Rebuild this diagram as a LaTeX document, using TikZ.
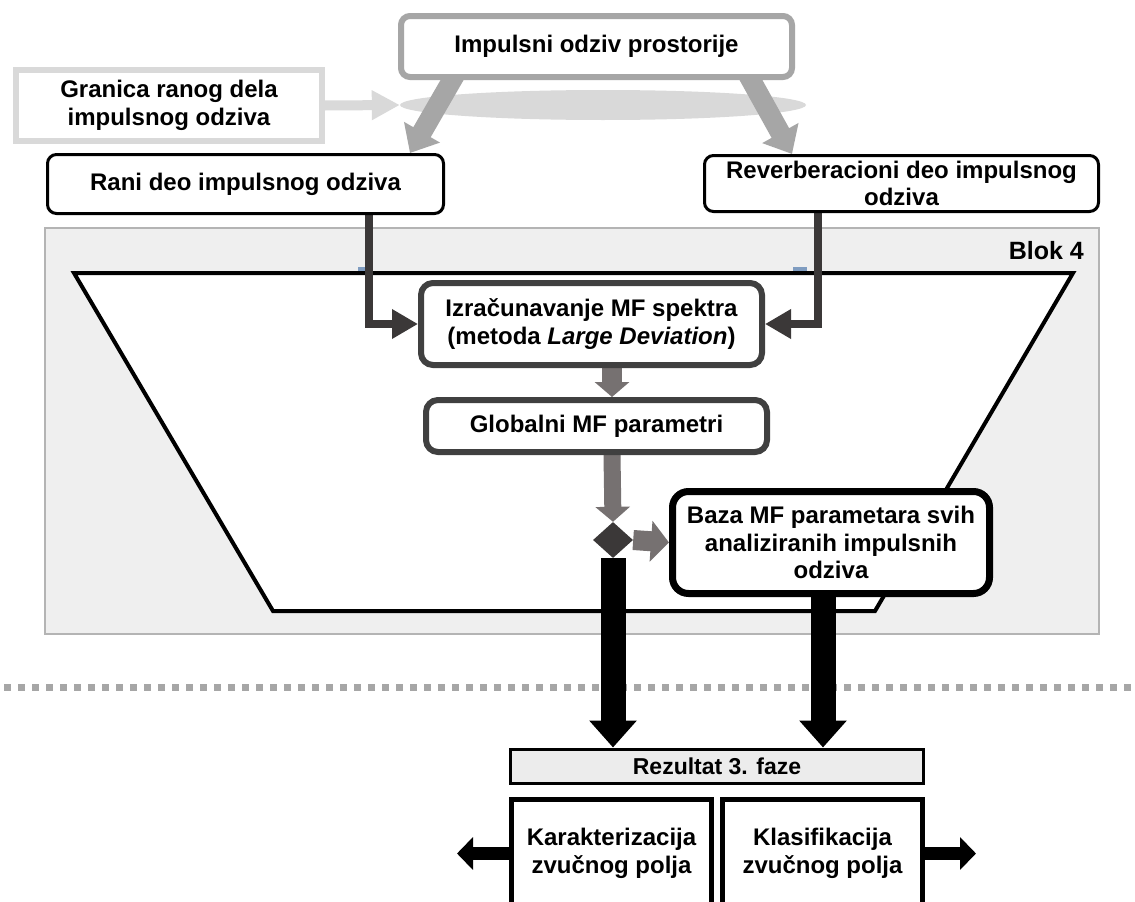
\documentclass[tikz,border=0pt]{standalone}
\usepackage{fontspec}
\setmainfont{Liberation Sans}
\usetikzlibrary{arrows.meta,shapes.geometric}
\pgfdeclarelayer{bg}
\pgfsetlayers{bg,main}
\definecolor{lgray}{HTML}{D9D9D9}
\definecolor{mgray}{HTML}{A6A6A6}
\definecolor{dgray}{HTML}{3B3838}
\definecolor{bgray}{HTML}{404040}
\definecolor{agray}{HTML}{767171}
\definecolor{panelfill}{HTML}{EFEFEF}
\definecolor{pborder}{HTML}{B4B4B4}
\definecolor{rezfill}{HTML}{ECECEC}
\definecolor{tickblue}{HTML}{7F9CC0}
\begin{document}
\begin{tikzpicture}[x=1pt,y=-1pt,
  txt/.style={font=\bfseries\fontsize{24}{27.5}\selectfont, align=center, inner sep=0pt},
  impbox/.style={txt, rectangle, draw=mgray, line width=6pt, fill=white, rounded corners=9pt},
  granbox/.style={txt, rectangle, draw=lgray, line width=6pt, fill=white},
  blackbox/.style={txt, rectangle, draw=black, line width=3pt, fill=white, rounded corners=9pt},
  darkbox/.style={txt, rectangle, draw=bgray, line width=6pt, fill=white, rounded corners=12pt},
  bazabox/.style={txt, rectangle, draw=black, line width=7pt, fill=white, rounded corners=16pt},
  rezbox/.style={txt, rectangle, draw=black, line width=3pt, fill=rezfill, font=\bfseries\fontsize{23}{27}\selectfont},
  lowbox/.style={txt, rectangle, draw=black, line width=5pt, fill=white},
  lgarrow/.style={draw=lgray, line width=10pt, -{Triangle[width=28pt,length=28pt]}},
  bigarrow/.style={draw=mgray, line width=20pt, -{Triangle[width=40pt,length=24pt]}},
  elbowarrow/.style={draw=dgray, line width=8pt, line join=miter, -{Triangle[width=28pt,length=26pt]}},
  smallarrow/.style={draw=agray, line width=20pt, -{Triangle[width=34pt,length=15pt]}},
  thinarrow/.style={draw=agray, line width=17pt, -{Triangle[width=34pt,length=15pt]}},
  blackarrow/.style={draw=black, line width=25pt, -{Triangle[width=46pt,length=27pt]}},
  sidearrow/.style={draw=black, line width=13pt, -{Triangle[width=32pt,length=16pt]}}
]
\useasboundingbox (0,0) rectangle (1135,902);

% nodes
\node[impbox, minimum width=391pt, minimum height=61pt] (imp) at (596.5,46.5) {Impulsni odziv prostorije};
\node[granbox, minimum width=306pt, minimum height=71pt] (gran) at (169,105.5) {Granica ranog dela\\impulsnog odziva};
\node[blackbox, minimum width=396pt, minimum height=59pt] (rani) at (245.5,184) {Rani deo impulsnog odziva};
\node[blackbox, minimum width=394pt, minimum height=56pt] (rev) at (901.5,183.5) {Reverberacioni deo impulsnog\\odziva};
\node[txt, anchor=east, font=\bfseries\fontsize{25}{30}\selectfont] (blok) at (1084,251) {Blok 4};
\node[darkbox, minimum width=341pt, minimum height=82pt] (mf) at (591.5,324) {Izračunavanje MF spektra\\(metoda \textit{Large Deviation})};
\node[darkbox, minimum width=341pt, minimum height=52pt] (glob) at (596.5,426) {Globalni MF parametri};
\node[diamond, fill=dgray, minimum width=40pt, minimum height=36pt, inner sep=0pt] (dia) at (613,540) {};
\node[bazabox, minimum width=317pt, minimum height=102pt] (baza) at (831,542.5) {Baza MF parametara svih\\analiziranih impulsnih\\odziva};
\node[rezbox, minimum width=413pt, minimum height=34pt] (rez) at (717,766) {Rezultat 3. faze};
\node[lowbox, minimum width=200pt, minimum height=108pt] (kar) at (611.5,853.5) {Karakterizacija\\zvučnog polja};
\node[lowbox, minimum width=200pt, minimum height=108pt] (kla) at (822.5,853.5) {Klasifikacija\\zvučnog polja};

\coordinate (kl) at (457,853.5);
\coordinate (kr) at (976,853.5);
\coordinate (bz) at ([xshift=-8pt]baza.south);

\begin{pgfonlayer}{bg}
  \fill[white] (0,0) rectangle (1135,902);
  % Blok 4 panel
  \draw[draw=pborder, fill=panelfill, line width=1.5pt] (45,228) rectangle (1099,634);
  \fill[tickblue] (358,267) rectangle (365,272);
  \fill[tickblue] (793,267) rectangle (807,272);
  \draw[line width=4pt, fill=white, line join=miter] (74,273) -- (1073,273) -- (875,611) -- (273,611) -- cycle;
  % ellipse
  \node[ellipse, fill=lgray, minimum width=406pt, minimum height=30pt, inner sep=0pt] (ell) at (603,105) {};
  % dotted separator
  \draw[mgray, line width=7pt, dash pattern=on 7pt off 7pt] (4,687) -- (1135,687);
  % connectors
  \draw[lgarrow] (gran.east) -- (ell.west);
  \draw[bigarrow] ([xshift=58.7pt,yshift=8pt]imp.south west) -- ([xshift=-35pt]rani.north east);
  \draw[bigarrow] ([xshift=-48.5pt,yshift=8pt]imp.south east) -- ([xshift=89pt]rev.north west);
  \draw[elbowarrow] ([xshift=123.5pt]rani.south) |- (mf.west);
  \draw[elbowarrow] ([xshift=-83.5pt]rev.south) |- (mf.east);
  \draw[smallarrow] ([xshift=20.5pt]mf.south) -- ([xshift=15.5pt]glob.north);
  \draw[thinarrow] ([xshift=15.5pt]glob.south) -- (dia.north);
  \draw[draw=agray, line width=20pt, -{Triangle[width=40pt,length=18pt]}] (dia.east) -- (baza.west);
  \draw[blackarrow] (dia.south) -- (dia.south |- rez.north);
  \draw[blackarrow] (bz) -- (bz |- rez.north);
  \draw[sidearrow] (kar.west) -- (kl);
  \draw[sidearrow] (kla.east) -- (kr);
\end{pgfonlayer}
\end{tikzpicture}
\end{document}
